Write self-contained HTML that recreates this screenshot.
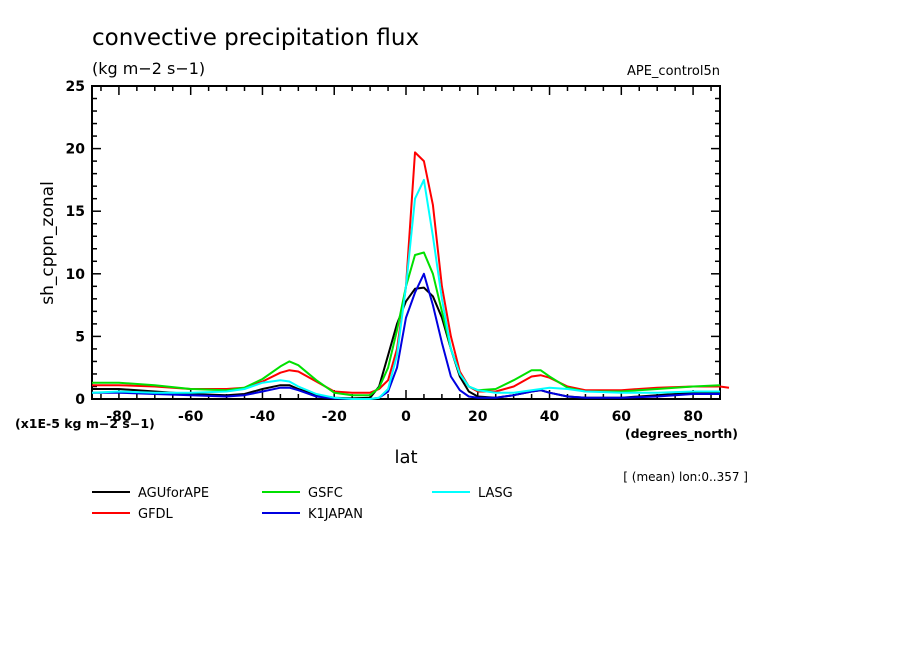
<!DOCTYPE html>
<html><head><meta charset="utf-8"><style>
body{margin:0;background:#fff}
svg{display:block}
text{font-family:"DejaVu Sans","Liberation Sans",sans-serif;fill:#000}
</style></head><body>
<svg id="chart" width="904" height="654" viewBox="0 0 904 654" xmlns="http://www.w3.org/2000/svg">
<rect width="904" height="654" fill="#fff"/>
<text x="92" y="45" font-size="23">convective precipitation flux</text>
<text x="92" y="74" font-size="16">(kg m−2 s−1)</text>
<text x="720" y="75" font-size="13" text-anchor="end">APE_control5n</text>
<text x="53" y="243" font-size="17" text-anchor="middle" transform="rotate(-90 53 243)">sh_cppn_zonal</text>
<text x="406" y="463" font-size="18" text-anchor="middle">lat</text>
<text x="15" y="428" font-size="12.5" font-weight="bold">(x1E-5 kg m−2 s−1)</text>
<text x="738" y="438" font-size="12.5" font-weight="bold" text-anchor="end">(degrees_north)</text>
<text x="748" y="481" font-size="12" text-anchor="end">[ (mean) lon:0..357 ]</text>
<g id="axes"></g>
<g id="series"></g>
<g id="legend"></g>
</svg>
<script>
const lats=[-87.5,-80,-70,-60,-50,-45,-40,-35,-32.5,-30,-25,-20,-15,-10,-7.5,-5,-2.5,0,2.5,5,7.5,10,12.5,15,17.5,20,25,30,35,37.5,40,45,50,60,70,80,87.5];
const agu=[0.8,0.8,0.6,0.4,0.3,0.4,0.8,1.1,1.1,0.8,0.3,0.1,0.05,0.1,1.0,3.5,6,7.8,8.8,8.9,8.2,6.5,4,1.8,0.6,0.2,0.1,0.3,0.6,0.7,0.5,0.2,0.1,0.1,0.3,0.5,0.5];
const gfdl=[1.1,1.1,1.0,0.8,0.8,0.9,1.4,2.1,2.3,2.2,1.4,0.6,0.5,0.5,0.8,1.5,4,9,19.7,19,15.5,9,5,2.2,1.0,0.6,0.6,1.0,1.8,1.9,1.7,1.0,0.7,0.7,0.9,1.0,1.0];
const gsfc=[1.3,1.3,1.1,0.8,0.7,0.9,1.6,2.6,3.0,2.7,1.5,0.5,0.3,0.3,0.9,2.5,5.5,9,11.5,11.7,10,7,4,2,1.0,0.7,0.8,1.5,2.3,2.3,1.8,0.9,0.6,0.6,0.8,1.0,1.1];
const k1japan=[0.5,0.5,0.4,0.3,0.2,0.3,0.6,0.9,0.9,0.7,0.2,0.05,0,0,0.1,0.6,2.5,6.5,8.5,10,7.5,4.5,1.8,0.7,0.2,0.1,0.1,0.3,0.6,0.7,0.5,0.2,0.1,0.1,0.2,0.4,0.4];
const lasg=[0.5,0.6,0.5,0.5,0.6,0.8,1.3,1.5,1.4,1.0,0.4,0.1,0,0,0.1,0.8,3.5,9,16,17.5,13,8,4,2,1.0,0.7,0.5,0.5,0.7,0.8,0.9,0.8,0.6,0.5,0.5,0.6,0.6];
const seriesNames=["AGUforAPE","GFDL","GSFC","K1JAPAN","LASG"];
const xTicks=[-80,-60,-40,-20,0,20,40,60,80];
const yTicks=[0,5,10,15,20,25];

const NS="http://www.w3.org/2000/svg";
const X0=92,X1=720,Y0=399,Y1=86,LMIN=-87.5,LMAX=87.5,VMAX=25;
function xs(v){return X0+(v-LMIN)/(LMAX-LMIN)*(X1-X0);}
function ys(v){return Y0-v/VMAX*(Y0-Y1);}
function mk(tag,attrs,parent){const e=document.createElementNS(NS,tag);for(const k in attrs)e.setAttribute(k,attrs[k]);parent.appendChild(e);return e;}
const axes=document.getElementById('axes');
const frame=mk('rect',{x:X0,y:Y1,width:X1-X0,height:Y0-Y1,fill:'none',stroke:'#000','stroke-width':2},axes);


for(let v=-85;v<=85;v+=5){
  const maj=v%20===0;const L=maj?9:5;const x=xs(v);
  const t1=mk('line',{x1:x,x2:x,y1:Y0,y2:Y0-L,stroke:'#000','stroke-width':1.5},axes);
  
  
  const t2=mk('line',{x1:x,x2:x,y1:Y1,y2:Y1+L,stroke:'#000','stroke-width':1.5},axes);
  
  
}
for(let v=0;v<=25;v+=1){
  const maj=v%5===0;const L=maj?9:5;const y=ys(v);
  const t1=mk('line',{x1:X0,x2:X0+L,y1:y,y2:y,stroke:'#000','stroke-width':1.5},axes);
  
  
  const t2=mk('line',{x1:X1,x2:X1-L,y1:y,y2:y,stroke:'#000','stroke-width':1.5},axes);
  
  
}
xTicks.forEach(v=>{const t=mk('text',{x:xs(v),y:421,'font-size':14,'font-weight':'bold','text-anchor':'middle'},axes);t.textContent=v;
  
  });
yTicks.forEach(v=>{const t=mk('text',{x:85,y:ys(v)+5,'font-size':14,'font-weight':'bold','text-anchor':'end'},axes);t.textContent=v;
  
  });
const sg=document.getElementById('series');
const data=[agu,gfdl,gsfc,k1japan,lasg];
const colors=['#000000','#ff0000','#00e000','#0000e0','#00ffff'];
data.forEach((arr,i)=>{
  let d=arr.map((v,j)=>(j?'L':'M')+xs(lats[j]).toFixed(1)+','+ys(v).toFixed(1)).join(' ');
  if(i===1){d+=' L'+xs(90).toFixed(1)+','+ys(arr[arr.length-1]-0.1).toFixed(1);}
  const p=mk('path',{d:d,fill:'none',stroke:colors[i],'stroke-width':2,'stroke-linejoin':'round'},sg);
  
  
});
const lg=document.getElementById('legend');
const pos=[[92,497],[92,518],[262,497],[262,518],[432,497]];
seriesNames.forEach((n,i)=>{
  const g=mk('g',{},lg);
  
  
  mk('line',{x1:pos[i][0],x2:pos[i][0]+38,y1:pos[i][1]-5,y2:pos[i][1]-5,stroke:colors[i],'stroke-width':2},g);
  const t=mk('text',{x:pos[i][0]+46,y:pos[i][1],'font-size':13},g);t.textContent=n;
});
</script>
</body></html>
